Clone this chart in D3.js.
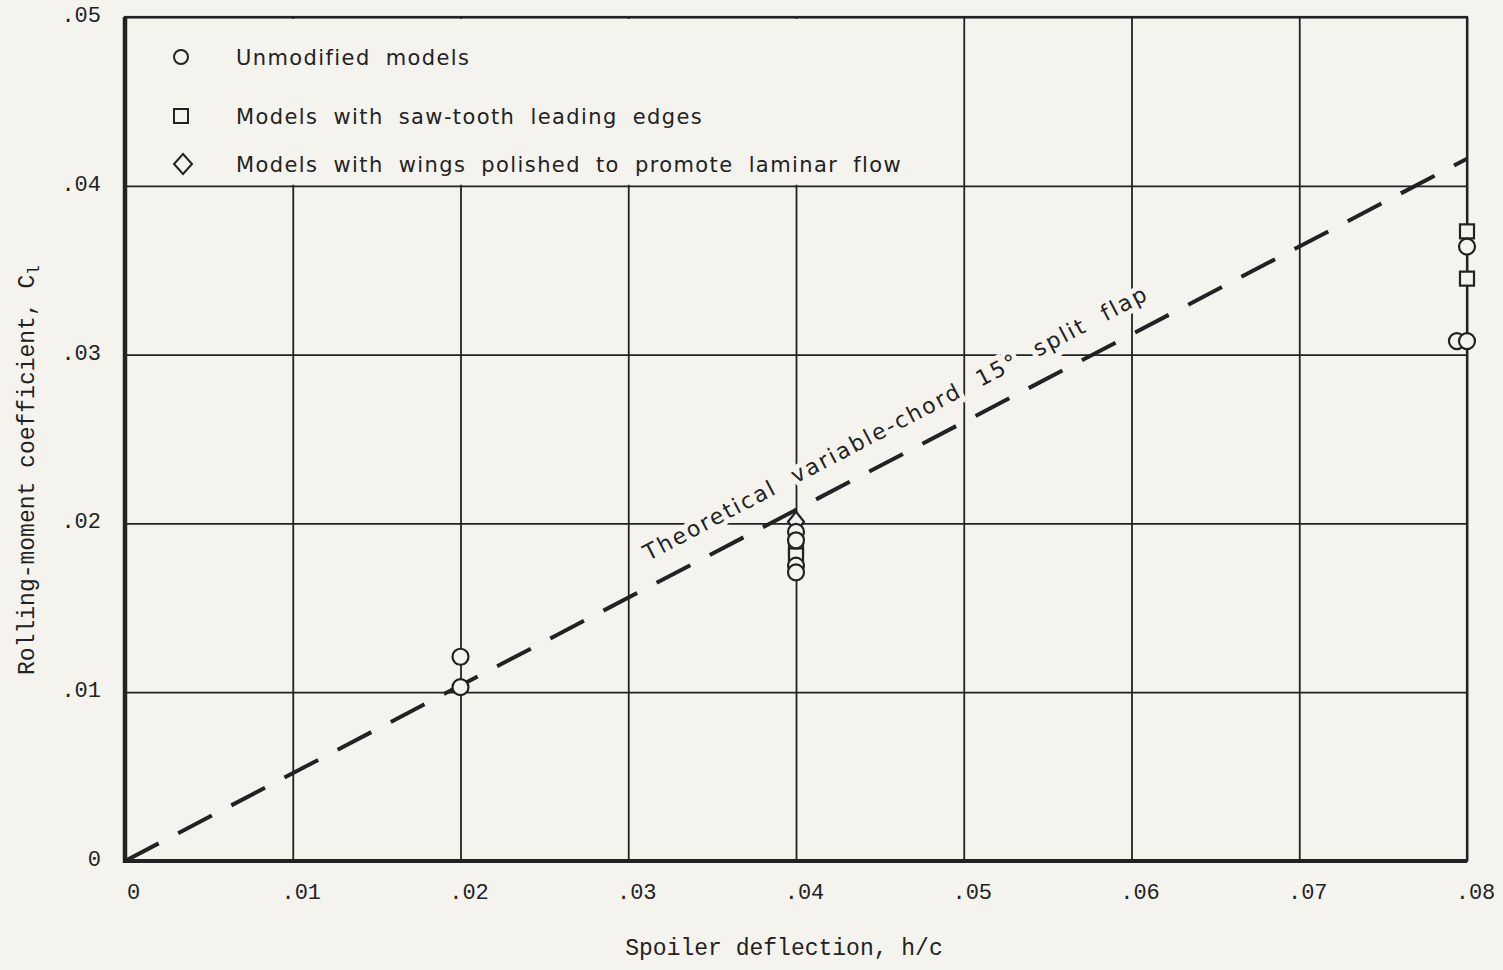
<html><body style="margin:0;background:#f4f3ee">
<div id="chart"></div>
<script src="https://cdn.jsdelivr.net/npm/d3@7"></script>
<script>
// spoiler deflection h/c vs rolling-moment coefficient
var xTicks = [0, 0.01, 0.02, 0.03, 0.04, 0.05, 0.06, 0.07, 0.08];
var yTicks = [0, 0.01, 0.02, 0.03, 0.04, 0.05];

var theoryX = [0, 0.08];
var theoryY = [0, 0.0416];

var unmodifiedX = [0.02, 0.02, 0.04, 0.04, 0.04, 0.04, 0.08, 0.0794, 0.08];
var unmodifiedY = [0.0121, 0.0103, 0.0195, 0.0190, 0.0175, 0.0171, 0.0364, 0.0308, 0.0308];
var sawToothX = [0.04, 0.04, 0.08, 0.08];
var sawToothY = [0.0185, 0.0181, 0.0373, 0.0345];
var laminarX = [0.04];
var laminarY = [0.0201];

var legendLabels = ["Unmodified models", "Models with saw-tooth leading edges",
  "Models with wings polished to promote laminar flow"];
var lineLabel = "Theoretical variable-chord 15\u00b0 split flap";

var W = 1503, H = 970, bg = "#f4f3ee", ink = "#222";
var m = {left: 125, right: 36, top: 17, bottom: 109};

var svg = d3.select("#chart").append("svg").attr("width", W).attr("height", H)
  .style("background", bg);

var x = d3.scaleLinear().domain([0, 0.08]).range([m.left, W - m.right]);
var y = d3.scaleLinear().domain([0, 0.05]).range([H - m.bottom, m.top]);

var fmt = function (d) { return d === 0 ? "0" : d3.format(".2f")(d).replace(/^0/, ""); };
var tickFont = "'Liberation Mono', monospace";

// grid + tick labels
var gx = svg.append("g").attr("transform", "translate(0," + y(0) + ")")
  .call(d3.axisBottom(x).tickValues(xTicks).tickSize(-(y(0) - y(0.05))).tickPadding(22).tickFormat(fmt));
var gy = svg.append("g").attr("transform", "translate(" + x(0) + ",0)")
  .call(d3.axisLeft(y).tickValues(yTicks).tickSize(-(x(0.08) - x(0))).tickPadding(24).tickFormat(fmt));
[gx, gy].forEach(function (g) {
  g.select(".domain").remove();
  g.selectAll(".tick line").attr("stroke", ink).attr("stroke-width", 1.8);
  g.selectAll(".tick text").attr("fill", ink).style("font-family", tickFont).style("font-size", "22px");
});
gx.selectAll(".tick text").attr("dx", 8);
gy.selectAll(".tick text").attr("dy", "0.2em");

// legend area blanks the vertical grid lines
svg.append("rect").attr("x", x(0) + 2).attr("y", y(0.05) + 2)
  .attr("width", x(0.0495) - x(0) - 2).attr("height", y(0.04) - y(0.05) - 3).attr("fill", bg);

// frame
svg.append("rect").attr("x", x(0)).attr("y", y(0.05)).attr("width", x(0.08) - x(0))
  .attr("height", y(0) - y(0.05)).attr("fill", "none").attr("stroke", ink).attr("stroke-width", 2.2);
svg.append("line").attr("x1", x(0)).attr("x2", x(0)).attr("y1", y(0.05)).attr("y2", y(0) + 2)
  .attr("stroke", ink).attr("stroke-width", 4.5);
svg.append("line").attr("x1", x(0)).attr("x2", x(0.08)).attr("y1", y(0)).attr("y2", y(0))
  .attr("stroke", ink).attr("stroke-width", 4);

// line label, with a halo that breaks the grid
var ang = Math.atan2(y(theoryY[1]) - y(0), x(theoryX[1]) - x(0));
var t0 = 0.0468, off = 31;
var lx = x(t0) + off * Math.sin(ang), ly = y(t0 * theoryY[1] / theoryX[1]) - off * Math.cos(ang);
svg.append("text").attr("transform", "translate(" + lx + "," + ly + ") rotate(" + (ang * 180 / Math.PI) + ")")
  .attr("text-anchor", "middle").attr("dy", "0.35em").attr("fill", ink)
  .attr("stroke", bg).attr("stroke-width", 10).attr("paint-order", "stroke")
  .style("font-family", "'DejaVu Sans', sans-serif").style("font-size", "22px")
  .style("letter-spacing", "2.2px").style("word-spacing", "10px")
  .text(lineLabel);

// theory line
svg.append("path")
  .attr("d", d3.line()(theoryX.map(function (v, i) { return [x(v), y(theoryY[i])]; })))
  .attr("fill", "none").attr("stroke", ink).attr("stroke-width", 4)
  .attr("stroke-dasharray", "38 22");

// markers
function circles(xs, ys) {
  svg.append("g").selectAll("circle").data(xs).join("circle")
    .attr("cx", function (d) { return x(d); }).attr("cy", function (d, i) { return y(ys[i]); })
    .attr("r", 8).attr("fill", bg).attr("stroke", ink).attr("stroke-width", 2.2);
}
function squares(xs, ys) {
  svg.append("g").selectAll("rect").data(xs).join("rect")
    .attr("x", function (d) { return x(d) - 7; }).attr("y", function (d, i) { return y(ys[i]) - 7; })
    .attr("width", 14).attr("height", 14).attr("fill", bg).attr("stroke", ink).attr("stroke-width", 2.2);
}
function diamonds(xs, ys) {
  svg.append("g").selectAll("path").data(xs).join("path")
    .attr("transform", function (d, i) { return "translate(" + x(d) + "," + y(ys[i]) + ")"; })
    .attr("d", "M0,-10L8,0L0,10L-8,0Z").attr("fill", bg).attr("stroke", ink).attr("stroke-width", 2.2);
}
diamonds(laminarX, laminarY);
squares(sawToothX, sawToothY);
circles(unmodifiedX, unmodifiedY);

// legend
var leg = svg.append("g");
var legY = [57, 116, 164];
leg.append("circle").attr("cx", 181).attr("cy", legY[0]).attr("r", 7)
  .attr("fill", "none").attr("stroke", ink).attr("stroke-width", 2);
leg.append("rect").attr("x", 174).attr("y", legY[1] - 7).attr("width", 14).attr("height", 14)
  .attr("fill", "none").attr("stroke", ink).attr("stroke-width", 2);
leg.append("path").attr("transform", "translate(183," + legY[2] + ")").attr("d", "M0,-10L9,0L0,10L-9,0Z")
  .attr("fill", "none").attr("stroke", ink).attr("stroke-width", 2);
leg.selectAll("text").data(legendLabels).join("text")
  .attr("x", 236).attr("y", function (d, i) { return legY[i] + 8; })
  .attr("fill", ink).style("font-family", "'DejaVu Sans', sans-serif").style("font-size", "21px")
  .style("letter-spacing", "1.4px").style("word-spacing", "7px")
  .text(function (d) { return d; });

// axis titles
svg.append("text").attr("x", 784).attr("y", 955).attr("text-anchor", "middle").attr("fill", ink)
  .style("font-family", tickFont).style("font-size", "23px").text("Spoiler deflection, h/c");
var yt = svg.append("text").attr("transform", "translate(34,470) rotate(-90)").attr("text-anchor", "middle")
  .attr("fill", ink).style("font-family", tickFont).style("font-size", "23px");
yt.append("tspan").text("Rolling-moment coefficient, C");
yt.append("tspan").attr("dy", 5).style("font-size", "16px").text("l");
</script>
</body></html>
